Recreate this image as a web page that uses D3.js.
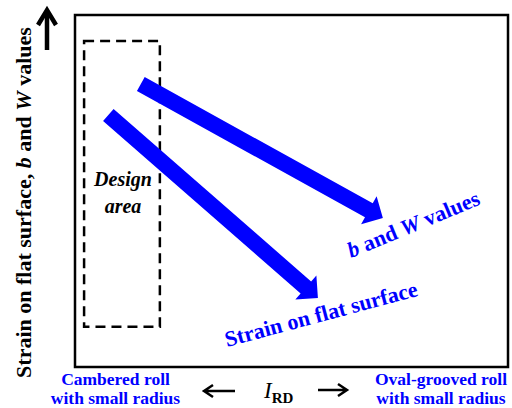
<!DOCTYPE html>
<html><head><meta charset="utf-8">
<script src="https://cdn.jsdelivr.net/npm/d3@7"></script>
<style>body{margin:0;background:#fff}svg{display:block}</style>
</head><body><div id="c"></div>
<script>
// Schematic data (units 0..100 on both axes)
const arrowNames = ["b and W values", "Strain on flat surface"];
const arrowStartX = [15.2, 7.7];
const arrowStartY = [80.4, 71.6];
const arrowEndX = [71.1, 56.1];
const arrowEndY = [42.3, 19.6];
const designBoxX = [2.1, 19.6];
const designBoxY = [11.4, 92.6];
const designLabel = ["Design", "area"];
const xEndLabels = [["Cambered roll", "with small radius"], ["Oval-grooved roll", "with small radius"]];

const W = 512, H = 408;
const svg = d3.select("#c").append("svg").attr("width", W).attr("height", H);
const x = d3.scaleLinear().domain([0, 100]).range([75, 508]);
const y = d3.scaleLinear().domain([0, 100]).range([367, 15]);
const blue = "#0000ff";
const FONT = '"Liberation Serif", "Times New Roman", serif';
function txt(sel) {
  return sel.append("text").style("font-family", FONT).style("font-weight", "bold");
}

// Frame
svg.append("rect").attr("x", x(0)).attr("y", y(100)).attr("width", x(100) - x(0)).attr("height", y(0) - y(100))
  .attr("fill", "none").attr("stroke", "#000").attr("stroke-width", 2.5);

// Design box
svg.append("rect").attr("x", x(designBoxX[0])).attr("y", y(designBoxY[1]))
  .attr("width", x(designBoxX[1]) - x(designBoxX[0])).attr("height", y(designBoxY[0]) - y(designBoxY[1]))
  .attr("fill", "none").attr("stroke", "#000").attr("stroke-width", 2.5).attr("stroke-dasharray", "10,6");

// Design area text
const dcx = (x(designBoxX[0]) + x(designBoxX[1])) / 2;
designLabel.forEach((t, i) => {
  txt(svg).attr("x", dcx + 1).attr("y", 186 + i * 27).attr("text-anchor", "middle")
    .attr("font-size", 20).style("font-style", "italic").text(t);
});

// Arrows
const shaft = 16, headW = 32, headL = 16;
arrowNames.forEach((n, i) => {
  const x0 = x(arrowStartX[i]), y0 = y(arrowStartY[i]), x1 = x(arrowEndX[i]), y1 = y(arrowEndY[i]);
  const dx = x1 - x0, dy = y1 - y0, L = Math.hypot(dx, dy);
  const ux = dx / L, uy = dy / L, px = -uy, py = ux;
  const bx = x1 - ux * headL, by = y1 - uy * headL;
  const pts = [
    [x0 + px * shaft / 2, y0 + py * shaft / 2],
    [bx + px * shaft / 2, by + py * shaft / 2],
    [bx + px * headW / 2, by + py * headW / 2],
    [x1, y1],
    [bx - px * headW / 2, by - py * headW / 2],
    [bx - px * shaft / 2, by - py * shaft / 2],
    [x0 - px * shaft / 2, y0 - py * shaft / 2]
  ];
  svg.append("path").attr("d", d3.line()(pts) + "Z").attr("fill", blue);
});

// Arrow labels
const l1 = txt(svg).attr("transform", "translate(351,258) rotate(-22.5)").attr("font-size", 22).attr("fill", blue);
l1.append("tspan").style("font-style", "italic").text("b");
l1.append("tspan").text(" and ");
l1.append("tspan").style("font-style", "italic").text("W");
l1.append("tspan").text(" values");

txt(svg).attr("transform", "translate(227,347) rotate(-15)").attr("font-size", 22).attr("fill", blue)
  .text("Strain on flat surface");

// Y axis label
const yl = txt(svg).attr("transform", "translate(31,202.5) rotate(-90)").attr("text-anchor", "middle").attr("font-size", 22);
yl.append("tspan").text("Strain on flat surface, ");
yl.append("tspan").style("font-style", "italic").text("b");
yl.append("tspan").text(" and ");
yl.append("tspan").style("font-style", "italic").text("W");
yl.append("tspan").text(" values");

// Up arrow
svg.append("line").attr("x1", 47).attr("x2", 47).attr("y1", 50).attr("y2", 14).attr("stroke", "#000").attr("stroke-width", 4.5);
svg.append("path").attr("d", "M38,25 L47,10 L56,25").attr("fill", "none").attr("stroke", "#000").attr("stroke-width", 4.5);

// X end labels
[[115.5, 0], [441, 1]].forEach(([cx, i]) => {
  xEndLabels[i].forEach((t, j) => {
    txt(svg).attr("x", cx).attr("y", 385 + j * 19).attr("text-anchor", "middle")
      .attr("font-size", 17.5).attr("fill", blue).text(t);
  });
});

// I_RD with arrows
svg.append("path").attr("d", "M235,391 L205,391 M213,385 L204,391 L213,397").attr("fill", "none").attr("stroke", "#000").attr("stroke-width", 2.5);
svg.append("path").attr("d", "M318,390 L346,390 M338,384 L347,390 L338,396").attr("fill", "none").attr("stroke", "#000").attr("stroke-width", 2.5);
const ird = txt(svg).attr("x", 264).attr("y", 398).attr("font-size", 23);
ird.append("tspan").style("font-style", "italic").style("font-weight", "normal").text("I");
ird.append("tspan").attr("font-size", 15).attr("dy", 5).text("RD");
</script></body></html>
